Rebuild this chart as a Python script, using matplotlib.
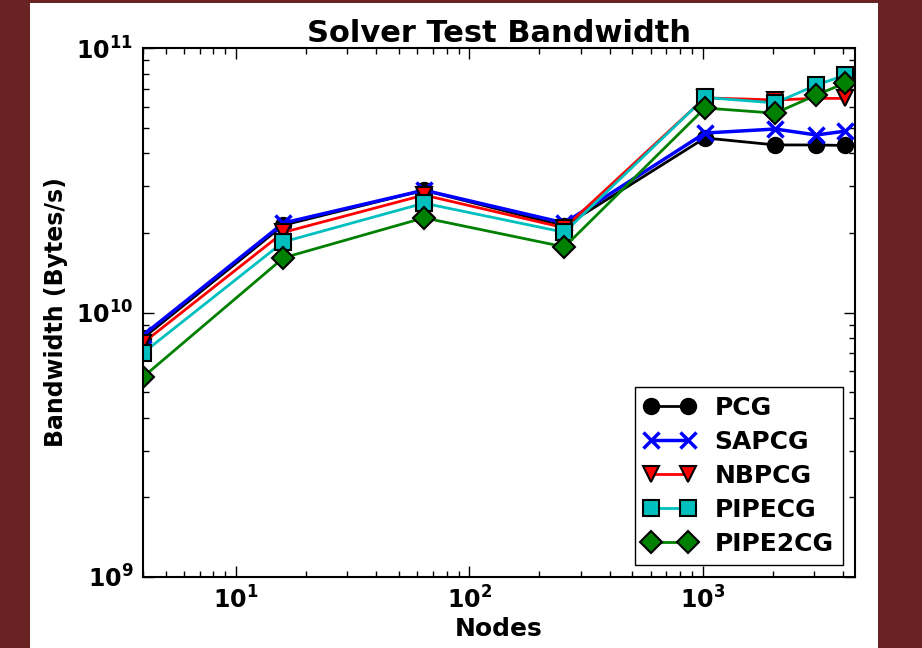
"""Solver test bandwidth vs node count (log-log)."""

import matplotlib
matplotlib.use("Agg")
import matplotlib.pyplot as plt
from matplotlib.patches import Rectangle

nodes = [4, 16, 64, 256, 1024, 2048, 3072, 4096]

pcg = [8.0e9, 2.14e10, 2.90e10, 2.12e10, 4.57e10, 4.30e10, 4.30e10, 4.28e10]
sapcg = [8.2e9, 2.18e10, 2.90e10, 2.18e10, 4.77e10, 4.94e10, 4.69e10, 4.85e10]
nbpcg = [7.67e9, 2.01e10, 2.78e10, 2.09e10, 6.48e10, 6.36e10, 6.45e10, 6.45e10]
pipecg = [7.03e9, 1.85e10, 2.59e10, 2.01e10, 6.5e10, 6.2e10, 7.24e10, 7.9e10]
pipe2cg = [5.7e9, 1.61e10, 2.28e10, 1.77e10, 5.93e10, 5.67e10, 6.64e10, 7.38e10]

series = [
    ("PCG", pcg, "black", "o"),
    ("SAPCG", sapcg, "blue", "x"),
    ("NBPCG", nbpcg, "red", "v"),
    ("PIPECG", pipecg, "c", "s"),
    ("PIPE2CG", pipe2cg, "green", "D"),
]

plt.rcParams["font.family"] = "DejaVu Sans"
plt.rcParams["font.weight"] = "bold"

fig = plt.figure(figsize=(9.22, 6.48), dpi=100)
fig.patch.set_facecolor("#6a2323")
fig.add_artist(Rectangle((30 / 922, 0), 848 / 922, 645 / 648, transform=fig.transFigure,
                         facecolor="white", edgecolor="none", zorder=-10))

ax = fig.add_axes([143 / 922, 71 / 648, 712 / 922, 529 / 648])
for label, vals, color, marker in series:
    if marker == "x":
        ax.plot(nodes, vals, color=color, marker=marker, markersize=12, markeredgewidth=2.5,
                linewidth=2.5, label=label)
    else:
        ax.plot(nodes, vals, color=color, marker=marker, markersize=11, markeredgecolor="black",
                markeredgewidth=1.5, linewidth=2, label=label)

ax.set_xscale("log")
ax.set_yscale("log")
ax.set_xlim(4, 4500)
ax.set_ylim(1e9, 1e11)

ax.set_title("Solver Test Bandwidth", fontsize=22, fontweight="bold", pad=4)
ax.set_xlabel("Nodes", fontsize=18, fontweight="bold", labelpad=2)
ax.set_ylabel("Bandwidth (Bytes/s)", fontsize=17, fontweight="bold", labelpad=6)

ax.tick_params(which="both", direction="in", top=True, right=True, labelsize=17, width=1)
ax.tick_params(which="major", length=8, pad=7)
ax.tick_params(which="minor", length=4)
for sp in ax.spines.values():
    sp.set_linewidth(1.5)

leg = ax.legend(loc="lower right", numpoints=2, fontsize=18, fancybox=False,
                edgecolor="black", framealpha=1, borderaxespad=0.5, handlelength=2.1,
                borderpad=0.35, labelspacing=0.4, handletextpad=0.75)
leg.get_frame().set_linewidth(1.0)
for t in leg.get_texts():
    t.set_fontweight("bold")

plt.savefig("out.png", dpi=100, facecolor=fig.get_facecolor())
plt.close(fig)
